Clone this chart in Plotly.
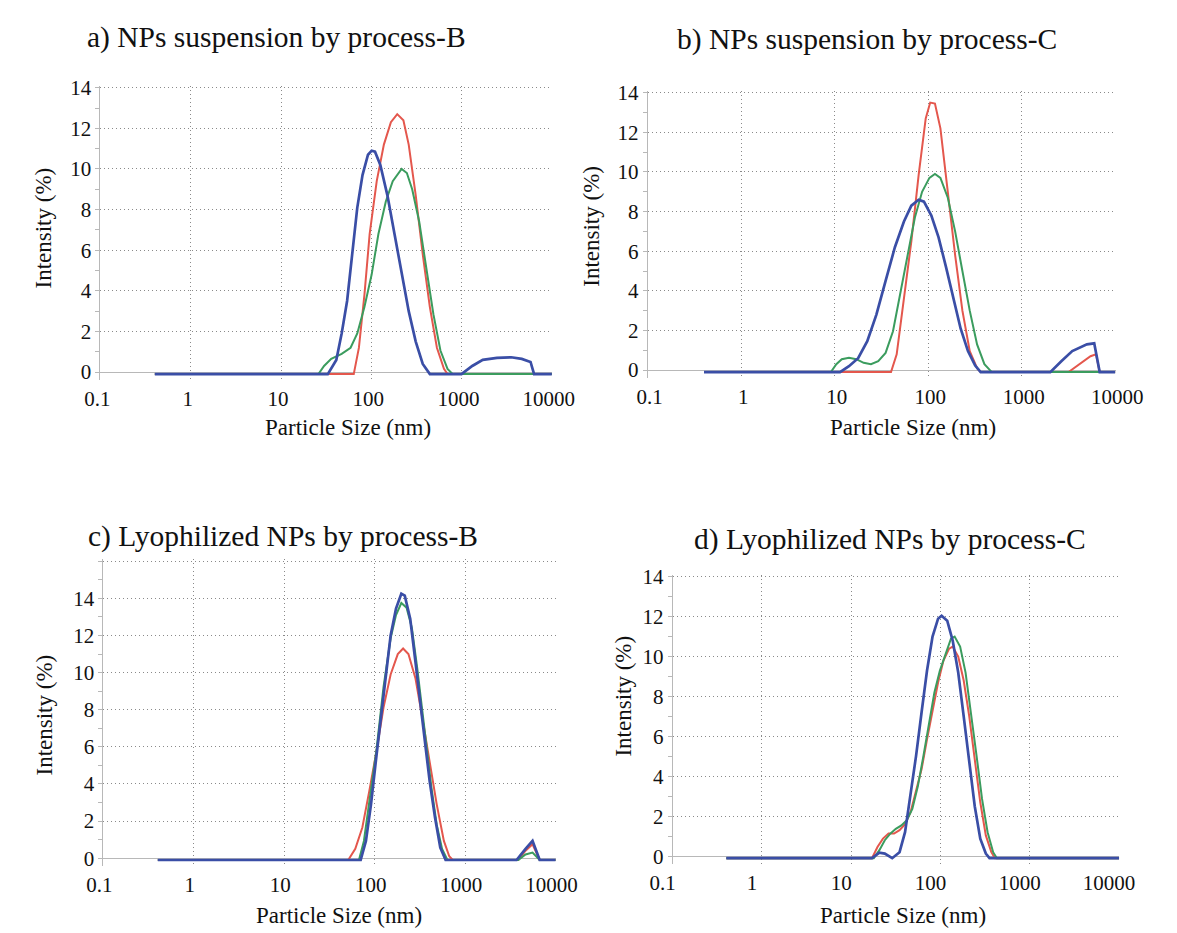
import plotly.graph_objects as go

# ---------------- data (particle size in nm, intensity in %) ----------------
SIZE_TICKS = [0.1, 1, 10, 100, 1000, 10000]
SIZE_TICK_LABELS = ["0.1", "1", "10", "100", "1000", "10000"]

PANEL_TITLES = ["a) NPs suspension by process-B", "b) NPs suspension by process-C",
                "c) Lyophilized NPs by process-B", "d) Lyophilized NPs by process-C"]

A_RED_X = [0.4, 64, 73, 84, 96, 115, 138, 165, 194, 227, 260, 311, 372, 446, 534, 639, 700, 10000]
A_RED_Y = [-0.1, -0.1, 1.2, 3.8, 6.8, 9.4, 11.2, 12.3, 12.7, 12.4, 11.2, 8.7, 5.8, 3.2, 1.2, 0.16, -0.1, -0.1]
A_GREEN_X = [0.4, 26, 30, 36, 47, 59, 70, 84, 101, 120, 145, 173, 217, 248, 284, 340, 408, 488, 584, 700, 800, 10000]
A_GREEN_Y = [-0.1, -0.1, 0.3, 0.65, 0.9, 1.2, 1.9, 3.2, 4.8, 6.8, 8.4, 9.4, 10.0, 9.8, 9.0, 7.4, 5.1, 2.85, 1.06, 0.16, -0.1, -0.1]
A_BLUE_X = [0.4, 33, 41, 47, 54, 61, 70, 80, 92, 101, 110, 126, 151, 181, 217, 260, 311, 372, 446,
            1000, 1315, 1720, 2470, 3550, 4650, 5820, 6370, 10000]
A_BLUE_Y = [-0.1, -0.1, 0.6, 1.9, 3.5, 5.8, 8.1, 9.7, 10.7, 10.9, 10.85, 10.2, 8.7, 6.8, 4.8, 3.0, 1.5, 0.4, -0.1,
            -0.1, 0.3, 0.6, 0.7, 0.73, 0.65, 0.5, -0.1, -0.1]

B_RED_X = [0.4, 40, 46, 55, 66, 79, 94, 105, 118, 135, 162, 194, 232, 278, 333, 364,
           3170, 4150, 5440, 6230, 6820, 10000]
B_RED_Y = [-0.1, -0.1, 0.8, 3.5, 6.5, 9.85, 12.7, 13.5, 13.45, 12.2, 9.0, 5.8, 3.0, 0.96, 0.1, -0.1,
           -0.1, 0.3, 0.7, 0.8, -0.1, -0.1]
B_GREEN_X = [0.4, 9.1, 10.4, 11.9, 14.2, 17.0, 20.4, 24.4, 29.2, 35, 42, 50, 60, 72, 86, 103, 118, 135,
             162, 194, 232, 278, 333, 399, 478, 10000]
B_GREEN_Y = [-0.1, -0.1, 0.3, 0.55, 0.62, 0.55, 0.37, 0.3, 0.45, 0.87, 1.96, 3.8, 5.8, 7.7, 9.0, 9.7, 9.9, 9.7,
             8.7, 7.0, 5.0, 3.0, 1.3, 0.3, -0.1, -0.1]
B_BLUE_X = [0.4, 11.4, 14.2, 17.8, 22.3, 27.9, 35, 44, 55, 66, 79, 90, 108, 129, 155, 185, 222, 266, 318, 364,
            2020, 2650, 3470, 4980, 5960, 6820, 10000]
B_BLUE_Y = [-0.1, -0.1, 0.2, 0.6, 1.46, 2.8, 4.5, 6.2, 7.5, 8.3, 8.6, 8.5, 7.8, 6.7, 5.2, 3.6, 2.1, 0.96, 0.23, -0.1,
            -0.1, 0.45, 0.96, 1.3, 1.35, -0.1, -0.1]

C_RED_X = [0.4, 51, 61, 73, 87, 105, 125, 150, 180, 206, 236, 282, 338, 405, 485, 582, 667, 729,
           3870, 4650, 5560, 6670, 10000]
C_RED_Y = [-0.1, -0.1, 0.5, 1.65, 3.6, 5.8, 8.1, 9.9, 11.0, 11.3, 11.0, 9.7, 7.5, 5.2, 2.9, 0.93, 0.1, -0.1,
           -0.1, 0.4, 0.75, -0.1, -0.1]
C_GREEN_X = [0.4, 67, 76, 87, 105, 125, 150, 172, 197, 225, 258, 296, 354, 424, 485, 556, 637,
             3870, 4650, 5560, 6670, 10000]
C_GREEN_Y = [-0.1, -0.1, 0.93, 2.9, 5.9, 9.2, 11.85, 13.1, 13.75, 13.5, 12.4, 10.2, 7.0, 3.8, 1.8, 0.5, -0.1,
             -0.1, 0.2, 0.3, -0.1, -0.1]
C_BLUE_X = [0.4, 70, 80, 91, 105, 125, 150, 172, 197, 215, 247, 282, 338, 405, 464, 531, 608,
            3700, 4650, 5560, 6670, 10000]
C_BLUE_Y = [-0.1, -0.1, 0.93, 2.9, 5.6, 8.8, 12.0, 13.45, 14.25, 14.15, 12.9, 10.6, 7.4, 4.15, 2.2, 0.57, -0.1,
            -0.1, 0.5, 0.93, -0.1, -0.1]

D_RED_X = [0.4, 17.1, 19.7, 22.7, 26.2, 30.2, 34.8, 40.1, 46.2, 53.2, 61.4, 70.7, 81.5, 94, 108, 125, 137,
           158, 182, 210, 242, 279, 322, 371, 407, 10000]
D_RED_Y = [-0.1, -0.1, 0.46, 0.88, 1.13, 1.13, 1.3, 1.6, 2.2, 3.2, 4.35, 5.85, 7.3, 8.7, 9.8, 10.4, 10.5,
           10.0, 8.8, 7.0, 4.85, 2.7, 1.04, 0.2, -0.1, -0.1]
D_GREEN_X = [0.4, 17.9, 20.7, 23.8, 27.4, 31.6, 36.5, 42, 48.4, 55.8, 64.3, 74.1, 85.5, 98.5, 114, 131, 144,
             166, 191, 220, 254, 292, 337, 389, 428, 10000]
D_GREEN_Y = [-0.1, -0.1, 0.3, 0.8, 1.13, 1.37, 1.54, 1.8, 2.37, 3.5, 5.0, 6.7, 8.2, 9.3, 10.15, 10.9, 11.0,
             10.5, 9.2, 7.2, 5.0, 2.87, 1.2, 0.2, -0.1, -0.1]
D_BLUE_X = [0.4, 17.1, 20.7, 23.8, 28.8, 34.8, 40.1, 46.2, 53.2, 61.4, 70.7, 81.5, 94, 103, 119, 137, 158,
            182, 210, 242, 279, 322, 354, 10000]
D_BLUE_Y = [-0.1, -0.1, 0.17, 0.13, -0.1, 0.2, 1.2, 3.0, 5.0, 7.2, 9.3, 11.0, 11.9, 12.05, 11.8, 10.8, 9.2,
            7.0, 4.7, 2.5, 0.88, 0.13, -0.1, -0.1]

# ---------------- styling / layout ----------------
W, H = 1177, 933
FONT = "Liberation Serif, Times New Roman, serif"
RED, GREEN, BLUE = "#e4574d", "#3b9c5e", "#3a4ea6"
GRID = "#8a8a8a"
AXIS = "#b8b8b8"

# pixel geometry: x of 0.1 / 10000, y of 0 and of 14, top tick value, text positions
panels = [
    dict(data=[(A_RED_X, A_RED_Y, RED), (A_GREEN_X, A_GREEN_Y, GREEN), (A_BLUE_X, A_BLUE_Y, BLUE)],
         x0=81, x1=553, y0=368, y14=79, ymax=14, title_xy=(265, 28), ytitle_xy=(21, 222),
         xtitle_xy=(340, 424), shift=-3),
    dict(data=[(B_RED_X, B_RED_Y, RED), (B_GREEN_X, B_GREEN_Y, GREEN), (B_BLUE_X, B_BLUE_Y, BLUE)],
         x0=653, x1=1142, y0=366, y14=84, ymax=14, title_xy=(882, 30), ytitle_xy=(594, 220),
         xtitle_xy=(930, 424), shift=2),
    dict(data=[(C_RED_X, C_RED_Y, RED), (C_GREEN_X, C_GREEN_Y, GREEN), (C_BLUE_X, C_BLUE_Y, BLUE)],
         x0=84, x1=557, y0=862, y14=598, ymax=16, title_xy=(272, 535), ytitle_xy=(22, 717),
         xtitle_xy=(330, 920), shift=-4),
    dict(data=[(D_RED_X, D_RED_Y, RED), (D_GREEN_X, D_GREEN_Y, GREEN), (D_BLUE_X, D_BLUE_Y, BLUE)],
         x0=679, x1=1146, y0=860, y14=576, ymax=14, title_xy=(906, 538), ytitle_xy=(628, 697),
         xtitle_xy=(920, 920), shift=-10),
]

fig = go.Figure()
layout = dict(width=W, height=H, margin=dict(l=0, r=0, t=0, b=0),
              paper_bgcolor="white", plot_bgcolor="white", showlegend=False,
              font=dict(family=FONT, size=21, color="#111"))
annotations = []
YLO = -0.4
for i, p in enumerate(panels):
    n = "" if i == 0 else str(i + 1)
    ppu = (p["y0"] - p["y14"]) / 14.0
    ytop = p["ymax"] + 0.1
    bottom_px = p["y0"] - YLO * ppu
    top_px = p["y0"] - ytop * ppu
    for xs, ys, col in p["data"]:
        fig.add_trace(go.Scatter(x=xs, y=ys, mode="lines", xaxis="x" + n, yaxis="y" + n,
                                 line=dict(color=col, width=2.7 if col == BLUE else 2),
                                 hoverinfo="skip"))
    yvals = list(range(0, p["ymax"] + 1, 2))
    ytext = [str(v) if v <= 14 else "" for v in yvals]
    layout["xaxis" + n] = dict(
        type="log", range=[-1, 4.003], domain=[p["x0"] / W, p["x1"] / W], anchor="y" + n,
        tickvals=SIZE_TICKS, ticktext=SIZE_TICK_LABELS, showline=False, zeroline=False,
        showgrid=True, gridcolor=GRID, gridwidth=1, griddash="1px,3px",
        ticks="", ticklabelstandoff=4, ticklabelshift=p["shift"],
        tickfont=dict(size=21, family=FONT, color="#111"))
    layout["yaxis" + n] = dict(
        range=[YLO, ytop], domain=[1 - bottom_px / H, 1 - top_px / H], anchor="x" + n,
        tickvals=yvals, ticktext=ytext, showline=True, linecolor=AXIS, linewidth=1,
        zeroline=True, zerolinecolor=AXIS, zerolinewidth=1,
        showgrid=True, gridcolor=GRID, gridwidth=1, griddash="1px,3px",
        ticks="outside", ticklen=4, tickcolor=AXIS,
        minor=dict(dtick=1, ticks="outside", ticklen=4, tickcolor=AXIS, showgrid=False),
        tickfont=dict(size=21, family=FONT, color="#111"))
    tx, ty = p["title_xy"]
    annotations.append(dict(text=PANEL_TITLES[i], x=tx / W, y=1 - ty / H, xref="paper", yref="paper",
                            showarrow=False, xanchor="center", yanchor="middle",
                            font=dict(size=29.5, family=FONT, color="#111")))
    yx, yy = p["ytitle_xy"]
    annotations.append(dict(text="Intensity (%)", x=yx / W, y=1 - yy / H,
                            xref="paper", yref="paper",
                            showarrow=False, textangle=-90, xanchor="center", yanchor="middle",
                            font=dict(size=23, family=FONT, color="#111")))
    xx, xy = p["xtitle_xy"]
    annotations.append(dict(text="Particle Size (nm)", x=xx / W, y=1 - xy / H, xref="paper", yref="paper",
                            showarrow=False, xanchor="center", yanchor="middle",
                            font=dict(size=23, family=FONT, color="#111")))

layout["annotations"] = annotations
fig.update_layout(**layout)
fig.write_html("out.html")
